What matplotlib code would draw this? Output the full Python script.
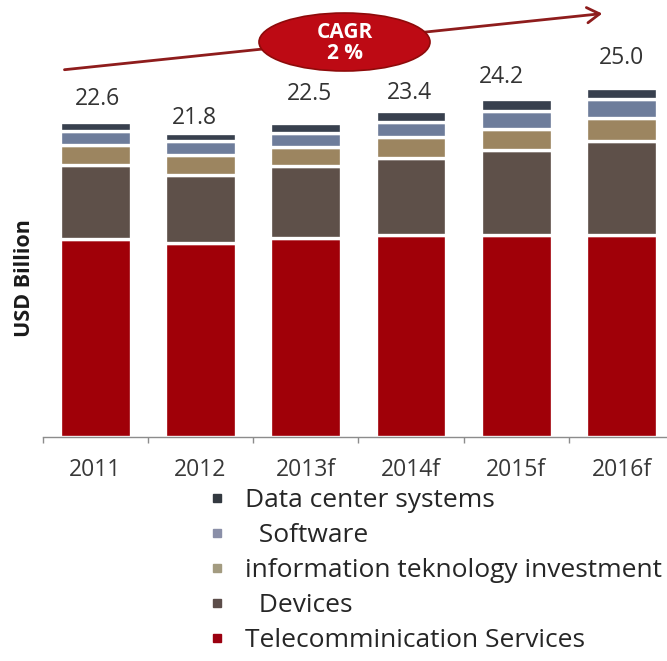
import matplotlib
matplotlib.use("Agg")
import matplotlib.pyplot as plt
from matplotlib.lines import Line2D
from matplotlib.patches import Ellipse, FancyArrowPatch
import numpy as np

plt.rcParams['font.family'] = ['Open Sans', 'DejaVu Sans']

# ---- data ----
years = ["2011", "2012", "2013f", "2014f", "2015f", "2016f"]
telecom = [14.2, 13.9, 14.3, 14.5, 14.5, 14.5]
devices = [5.3, 4.9, 5.1, 5.5, 6.1, 6.7]
it_invest = [1.4, 1.4, 1.4, 1.5, 1.5, 1.7]
software = [1.0, 1.0, 1.0, 1.1, 1.3, 1.3]
datacenter = [0.7, 0.6, 0.7, 0.8, 0.8, 0.8]
totals = [22.6, 21.8, 22.5, 23.4, 24.2, 25.0]
legend_labels = ["Telecomminication Services", "  Devices",
                 "information teknology investment", "  Software",
                 "Data center systems"]
cagr_text = "CAGR\n2 %"
y_label = "USD Billion"

# ---- styles ----
colors = ["#a00008", "#5e5049", "#9c8560", "#6e7d9b", "#38404e"]
legend_colors = ["#9b0010", "#5c4d4a", "#a39b80", "#8a8fa8", "#333940"]
gap_color = "white"
label_dx = [2, -6, 4, -2, -15, 0]      # pixel offsets for value labels
label_dy = [23, 15, 29, 18, 22, 30]

W, H = 667, 661
fig = plt.figure(figsize=(W / 100, H / 100), dpi=100)
fig.patch.set_facecolor("white")

px_per_unit = 13.95
base_px = 437
ax = fig.add_axes([42.5 / W, (H - base_px) / H, 631.8 / W, base_px / H])
ax.set_xlim(-0.5, 5.5)
ax.set_ylim(0, base_px / px_per_unit)

x = np.arange(len(years))
series = [telecom, devices, it_invest, software, datacenter]
bottom = np.zeros(len(years))
for vals, c in zip(series, colors):
    ax.bar(x, vals, bottom=bottom, width=0.672, color=c,
           edgecolor=gap_color, linewidth=2.4, zorder=2)
    bottom += np.array(vals)

for i, t in enumerate(totals):
    ax.annotate(f"{t:.1f}", xy=(i, t), xytext=(label_dx[i], label_dy[i]),
                textcoords="offset pixels", ha="center", va="center",
                fontsize=16.5, color="#333333", annotation_clip=False)

for s in ["left", "top", "right"]:
    ax.spines[s].set_visible(False)
ax.spines["bottom"].set_color("#8c8c8c")
ax.spines["bottom"].set_linewidth(1.0)
ax.set_yticks([])
ax.set_xticks(x)
ax.set_xticklabels(years, fontsize=16.5, color="#383838")
ax.set_xticks(np.arange(-0.5, 6, 1), minor=True)
ax.tick_params(axis="x", which="major", length=0, pad=15)
ax.tick_params(axis="x", which="minor", length=4.3, width=1.0, color="#8c8c8c")

fig.text(25 / W, 1 - 278 / H, y_label, rotation=90, ha="center", va="center",
         fontsize=15.5, fontweight="bold", color="#1a1a1a")

# CAGR arrow and ellipse
fig.patches.append(FancyArrowPatch(
    (61.7 / W, 1 - 70 / H), (605 / W, 1 - 13.3 / H),
    transform=fig.transFigure, arrowstyle="->,head_length=9,head_width=5.5",
    color="#8e1c1c", lw=2, mutation_scale=1, zorder=3))
ell = Ellipse((344.5 / W, 1 - 42 / H), 171 / W, 58 / H,
              transform=fig.transFigure, facecolor="#bd0a14",
              edgecolor="#8e0a0a", lw=1.2, zorder=4)
fig.patches.append(ell)
fig.text(345 / W, 1 - 43 / H, cagr_text, ha="center", va="center",
         fontsize=15, fontweight="bold", color="white", zorder=5,
         linespacing=1.05)

# legend
handles = [Line2D([], [], marker="s", ls="", color=c, markersize=5.8)
           for c in legend_colors]
order = [4, 3, 2, 1, 0]
fig.legend([handles[i] for i in order], [legend_labels[i] for i in order],
           loc="upper left", bbox_to_anchor=(207 / W, 1 - 488 / H),
           frameon=False, fontsize=19, handlelength=0.78, handletextpad=0.66,
           labelspacing=0.38, borderpad=0, borderaxespad=0,
           labelcolor="#262626")

fig.savefig("out.png", dpi=100, facecolor="white")
